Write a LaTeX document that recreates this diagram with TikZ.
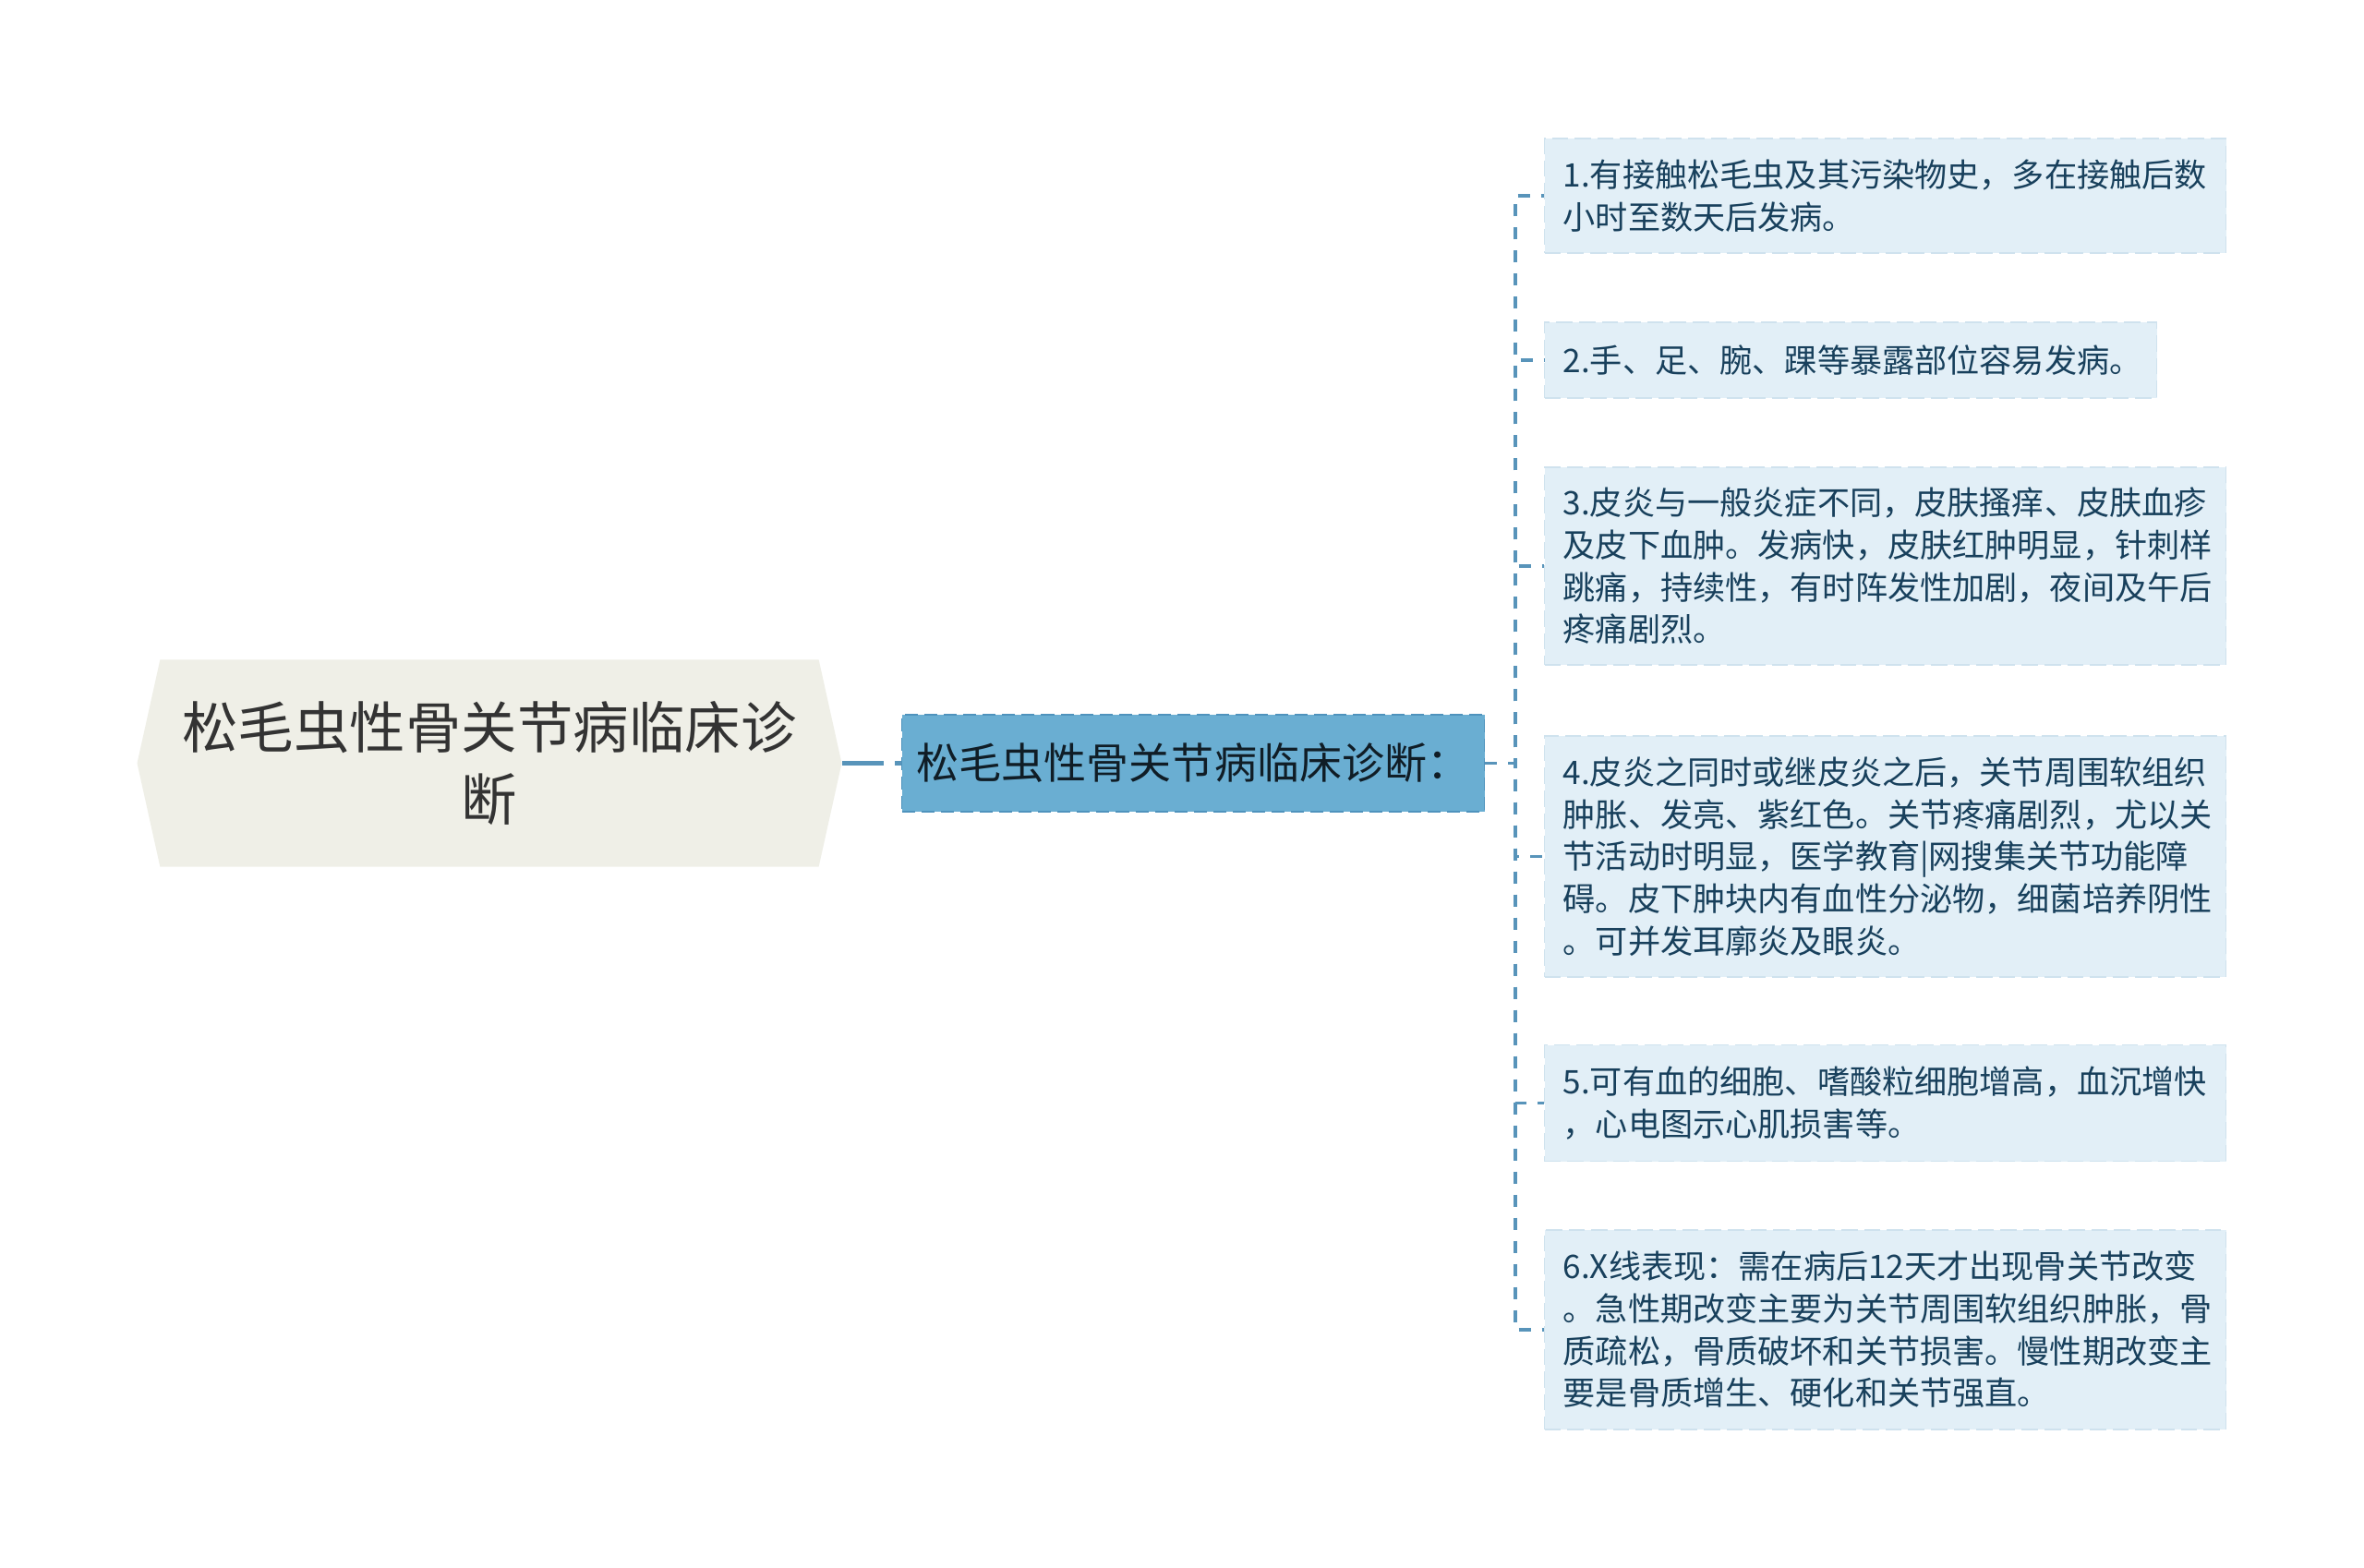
\documentclass[tikz,border=0pt]{standalone}
\usepackage{fontspec}
\setmainfont{Noto Sans CJK SC}
\usepackage{xcolor}
\usepackage{tikz}
\usetikzlibrary{positioning, shapes.symbols, arrows.meta}

\definecolor{rootfill}{HTML}{EFEFE7}
\definecolor{topicfill}{HTML}{6AAED2}
\definecolor{topicline}{HTML}{4F93BD}
\definecolor{leaffill}{HTML}{E2EFF7}
\definecolor{leafline}{HTML}{CFE2EE}
\definecolor{leaftext}{HTML}{18405C}
\definecolor{linkcol}{HTML}{5894BA}

\begin{document}
\begin{tikzpicture}[
    root/.style={signal, signal to=west and east, signal pointer angle=155,
      fill=rootfill, draw=none, minimum width=7.63cm, minimum height=2.24cm,
      align=center, text=black!80, font=\fontsize{17.2}{22.3}\selectfont},
    topic/.style={fill=topicfill, draw=topicline, dash pattern=on 4pt off 2pt,
      minimum width=6.31cm, minimum height=1.05cm, inner sep=0pt,
      text=black!80!topicline, font=\fontsize{13.1}{15}\selectfont},
    leaf/.style={anchor=west, fill=leaffill, draw=leafline, dash pattern=on 5pt off 2pt,
      inner xsep=0.2cm, inner ysep=0pt, align=left, text=leaftext,
      font=\fontsize{10}{13}\selectfont},
    link/.style={draw=linkcol, line width=0.9pt, dash pattern=on 0.13cm off 0.12cm}]
  \useasboundingbox (0,0) rectangle (25.6,-16.98);

  \node[root] (0) at (5.30,-8.265) {松毛虫性骨关节病临床诊\\断};
  \node[topic] (1) at (12.92,-8.265) {松毛虫性骨关节病临床诊断：};

  \node[leaf, text width=6.98cm, minimum height=1.24cm] (10) at (16.72,-2.12)
    {1.有接触松毛虫及其污染物史，多在接触后数\\小时至数天后发病。};
  \node[leaf, text width=6.23cm, minimum height=0.82cm] (11) at (16.72,-3.90)
    {2.手、足、腕、踝等暴露部位容易发病。};
  \node[leaf, text width=6.98cm, minimum height=2.14cm] (12) at (16.72,-6.13)
    {3.皮炎与一般炎症不同，皮肤搔痒、皮肤血疹\\及皮下血肿。发病快，皮肤红肿明显，针刺样\\跳痛，持续性，有时阵发性加剧，夜间及午后\\疼痛剧烈。};
  \node[leaf, text width=6.98cm, minimum height=2.61cm] (13) at (16.72,-9.275)
    {4.皮炎之同时或继皮炎之后，关节周围软组织\\肿胀、发亮、紫红色。关节疼痛剧烈，尤以关\\节活动时明显，医学教育|网搜集关节功能障\\碍。皮下肿块内有血性分泌物，细菌培养阴性\\。可并发耳廓炎及眼炎。};
  \node[leaf, text width=6.98cm, minimum height=1.26cm] (14) at (16.72,-11.945)
    {5.可有血的细胞、嗜酸粒细胞增高，血沉增快\\，心电图示心肌损害等。};
  \node[leaf, text width=6.98cm, minimum height=2.16cm] (15) at (16.72,-14.40)
    {6.X线表现：需在病后12天才出现骨关节改变\\。急性期改变主要为关节周围软组织肿胀，骨\\质疏松，骨质破坏和关节损害。慢性期改变主\\要是骨质增生、硬化和关节强直。};

  \coordinate (spine) at (16.41,-8.265);

  \draw[draw=linkcol, line width=1.3pt, dash pattern=on 0.45cm off 0.12cm] (0.east) -- (1.west);
  \foreach \c in {10,...,15}
    \draw[link] (1.east) -- (spine) |- (\c.west);
\end{tikzpicture}
\end{document}
